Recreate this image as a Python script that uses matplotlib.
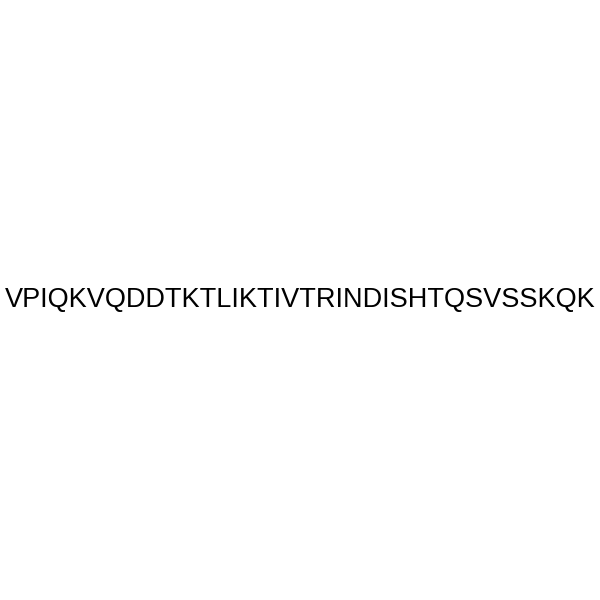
import matplotlib
matplotlib.use('Agg')
import matplotlib.pyplot as plt

sequence = 'VPIQKVQDDTKTLIKTIVTRINDISHTQSVSSKQK'

fig = plt.figure(figsize=(6, 6), dpi=100)
fig.text(0.5, 0.5, sequence, ha='center', va='center',
         fontsize=19.5, family='Liberation Sans', color='black')
fig.savefig('out.png', dpi=100, facecolor='white')
